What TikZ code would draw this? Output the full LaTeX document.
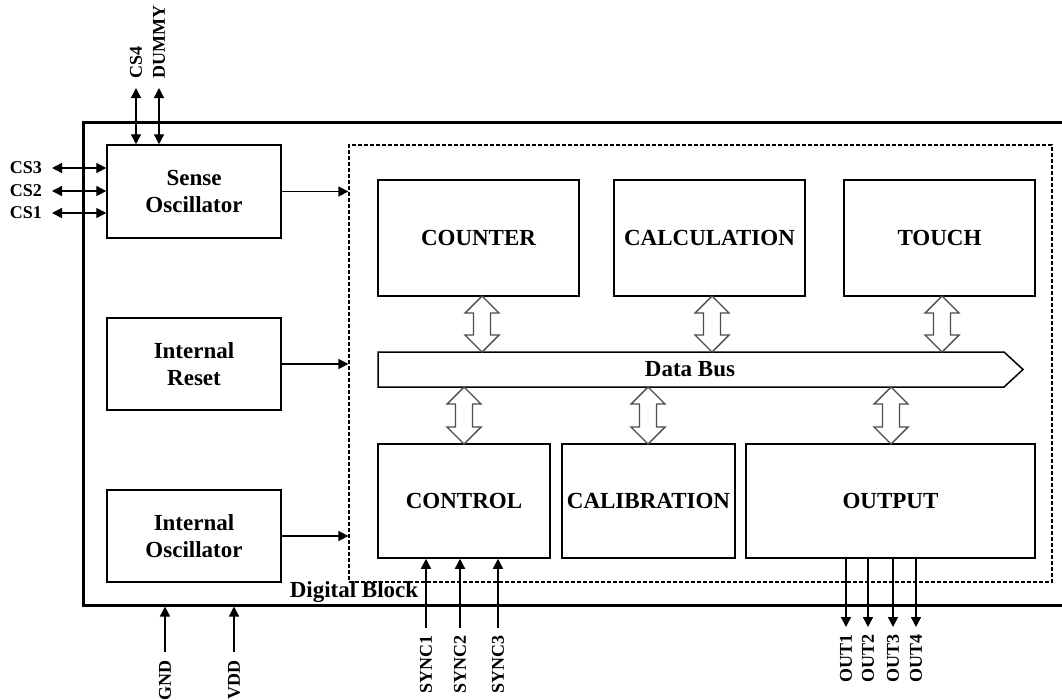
\documentclass[tikz,border=0pt]{standalone}
\usepackage{fontspec}
\setmainfont{Liberation Serif}
\usetikzlibrary{arrows.meta}
\newcommand\hlarrow[3]{%
  \draw[hollow] (#1,#2) -- ({#1+17},{#2+17}) -- ({#1+8.5},{#2+17}) -- ({#1+8.5},{#3-17}) -- ({#1+17},{#3-17}) -- (#1,#3) -- ({#1-17},{#3-17}) -- ({#1-8.5},{#3-17}) -- ({#1-8.5},{#2+17}) -- ({#1-17},{#2+17}) -- cycle;}
\begin{document}
\begin{tikzpicture}[x=1pt,y=-1pt,
  blk/.style={draw,line width=1.5pt,inner sep=0pt,font=\fontsize{23}{27}\selectfont\bfseries,align=center},
  pin/.style={font=\fontsize{18}{20}\selectfont\bfseries,inner sep=1pt},
  sig/.style={line width=1.4pt,-{Triangle[length=10pt,width=10pt]}},
  bisig/.style={line width=1.4pt,{Triangle[length=10pt,width=10pt]}-{Triangle[length=10pt,width=10pt]}},
  hollow/.style={draw=black!70,line width=1.4pt,fill=white,line join=miter}]
\useasboundingbox (0,0) rectangle (1062,699);
% outer chip and digital block
\node[draw,line width=3pt,minimum width=992pt,minimum height=483pt,inner sep=0pt] (chip) at (579,363.5) {};
\node[draw,dash pattern=on 4pt off 2pt,line width=1.3pt,minimum width=703pt,minimum height=437pt,inner sep=0pt] (dig) at (700.5,363.5) {};
\node[font=\fontsize{23}{27}\selectfont\bfseries,inner sep=0pt] (diglbl) at (354,592) {Digital Block};
% left blocks
\node[blk,minimum width=174pt,minimum height=93pt] (sense) at (194,191.5) {Sense\\Oscillator};
\node[blk,minimum width=174pt,minimum height=92pt] (reset) at (194,364) {Internal\\Reset};
\node[blk,minimum width=174pt,minimum height=92pt] (iosc) at (194,536) {Internal\\Oscillator};
\draw[sig] (sense.east) -- (sense.east -| dig.west);
\draw[sig] (reset.east) -- (reset.east -| dig.west);
\draw[sig] (iosc.east) -- (iosc.east -| dig.west);
% digital blocks
\node[blk,minimum width=201pt,minimum height=116pt] (counter) at (478.5,238) {COUNTER};
\node[blk,minimum width=191pt,minimum height=116pt] (calc) at (709.5,238) {CALCULATION};
\node[blk,minimum width=191pt,minimum height=116pt] (touch) at (939.5,238) {TOUCH};
\node[blk,minimum width=172pt,minimum height=114pt] (control) at (464,501) {CONTROL};
\node[blk,minimum width=173pt,minimum height=114pt] (calib) at (648.5,501) {CALIBRATION};
\node[blk,minimum width=289pt,minimum height=114pt] (output) at (890.5,501) {OUTPUT};
% data bus
\draw[line width=1.5pt,line join=miter] (378,352) -- (1004,352) -- (1023,369.5) -- (1004,387) -- (378,387) -- cycle;
\node[font=\fontsize{23}{27}\selectfont\bfseries,inner sep=0pt] (bus) at (690,369.5) {Data Bus};
% hollow bus arrows
\hlarrow{482}{296}{352}
\hlarrow{712}{296}{352}
\hlarrow{942}{296}{352}
\hlarrow{464}{387}{444}
\hlarrow{648}{387}{444}
\hlarrow{891}{387}{444}
% top pins
\coordinate (cs4) at (136,88);
\coordinate (dummy) at (159,88);
\draw[bisig] (cs4) -- (cs4 |- sense.north);
\draw[bisig] (dummy) -- (dummy |- sense.north);
\node[pin,rotate=90,anchor=west] (cs4l) at (136,80) {CS4};
\node[pin,rotate=90,anchor=west] (dummyl) at (159,80) {DUMMY};
% left pins
\coordinate (cs3) at (52,168);
\coordinate (cs2) at (52,191);
\coordinate (cs1) at (52,213);
\draw[bisig] (cs3) -- (cs3 -| sense.west);
\draw[bisig] (cs2) -- (cs2 -| sense.west);
\draw[bisig] (cs1) -- (cs1 -| sense.west);
\node[pin,anchor=east] (cs3l) at (43,168) {CS3};
\node[pin,anchor=east] (cs2l) at (43,191) {CS2};
\node[pin,anchor=east] (cs1l) at (43,213) {CS1};
% power pins
\coordinate (gnd) at (165,652);
\coordinate (vdd) at (234,652);
\draw[sig] (gnd) -- (gnd |- chip.south);
\draw[sig] (vdd) -- (vdd |- chip.south);
\node[pin,rotate=90,anchor=east] (gndl) at (165,659) {GND};
\node[pin,rotate=90,anchor=east] (vddl) at (234,659) {VDD};
% sync pins
\coordinate (s1) at (426,628);
\coordinate (s2) at (460,628);
\coordinate (s3) at (498,628);
\draw[sig] (s1) -- (s1 |- control.south);
\draw[sig] (s2) -- (s2 |- control.south);
\draw[sig] (s3) -- (s3 |- control.south);
\node[pin,rotate=90,anchor=east] (s1l) at (426,634) {SYNC1};
\node[pin,rotate=90,anchor=east] (s2l) at (460,634) {SYNC2};
\node[pin,rotate=90,anchor=east] (s3l) at (498,634) {SYNC3};
% output pins
\coordinate (o1) at (846,627);
\coordinate (o2) at (868,627);
\coordinate (o3) at (893,627);
\coordinate (o4) at (916,627);
\draw[sig] (o1 |- output.south) -- (o1);
\draw[sig] (o2 |- output.south) -- (o2);
\draw[sig] (o3 |- output.south) -- (o3);
\draw[sig] (o4 |- output.south) -- (o4);
\node[pin,rotate=90,anchor=east] (o1l) at (846,633) {OUT1};
\node[pin,rotate=90,anchor=east] (o2l) at (868,633) {OUT2};
\node[pin,rotate=90,anchor=east] (o3l) at (893,633) {OUT3};
\node[pin,rotate=90,anchor=east] (o4l) at (916,633) {OUT4};
\end{tikzpicture}
\end{document}
